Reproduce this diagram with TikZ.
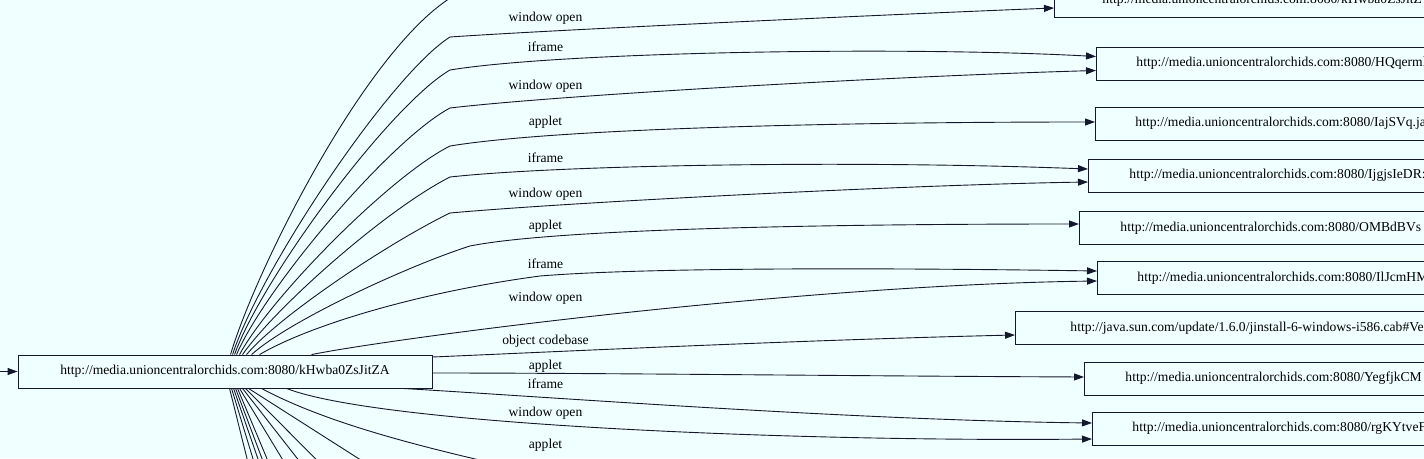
\documentclass[tikz,border=0pt]{standalone}
\usepackage{fontspec}
\setmainfont{Liberation Serif}
\usetikzlibrary{arrows.meta}
\definecolor{bg}{HTML}{F0FFFF}
\definecolor{lc}{RGB}{20,24,45}
\begin{document}
\begin{tikzpicture}[x=1pt,y=-1pt, font=\fontsize{13.6pt}{16pt}\selectfont,
  box/.style={draw=lc, line width=0.9pt, fill=bg, minimum height=33pt, inner ysep=0pt},
  rbox/.style={box, anchor=west, text width=640pt, align=left, inner xsep=#1},
  rbox/.default=41pt,
  edge/.style={draw=lc, line width=0.9pt, -{Triangle[length=10pt,width=7pt]}},
  plain/.style={draw=lc, line width=0.9pt},
  lbl/.style={inner sep=0pt, anchor=center}]
\useasboundingbox (0,0) rectangle (1424,458);
\fill[bg] (0,0) rectangle (1424,458);
\clip (0,0) rectangle (1424,458);

% nodes
\node[box, minimum width=414pt] (main) at (225,371.5) {http://media.unioncentralorchids.com:8080/kHwba0ZsJitZA};
\node[rbox=48pt] (t1) at (1054,0.5) {http://media.unioncentralorchids.com:8080/kHwba0ZsJitZ};
\node[rbox=40pt] (t2) at (1096,63.5) {http://media.unioncentralorchids.com:8080/HQqerml};
\node[rbox=40pt] (t3) at (1095,123.5) {http://media.unioncentralorchids.com:8080/IajSVq.ja};
\node[rbox=41pt] (t4) at (1088,175.5) {http://media.unioncentralorchids.com:8080/IjgjsIeDR:};
\node[rbox=41pt] (t5) at (1079,228) {http://media.unioncentralorchids.com:8080/OMBdBVs};
\node[rbox=40pt] (t6) at (1097,278) {http://media.unioncentralorchids.com:8080/IlJcmHM};
\node[rbox=55pt] (t7) at (1015,328) {http://java.sun.com/update/1.6.0/jinstall-6-windows-i586.cab\#Ve};
\node[rbox=41pt] (t8) at (1084,378.5) {http://media.unioncentralorchids.com:8080/YegfjkCM};
\node[rbox=40pt] (t9) at (1092,428.5) {http://media.unioncentralorchids.com:8080/rgKYtveF};

% free ends
\coordinate (src) at (0,371.5);
\coordinate (u0) at (470,-12);
\coordinate (d1) at (253.6,485);
\coordinate (d2) at (261,485);
\coordinate (d3) at (267,485);
\coordinate (d4) at (272,485);
\coordinate (d5) at (278,485);
\coordinate (d6) at (298,485);
\coordinate (d7) at (318,485);
\coordinate (d8) at (341.6,485);
\coordinate (d9) at (400,485);
\coordinate (d10) at (560,478);

% incoming
\draw[edge] (src) -- (main.west);

% upward edges
\draw[plain] ([xshift=213pt]main.north west) .. controls (257,265) and (380,20) .. (u0);
\draw[edge] ([xshift=215pt]main.north west) .. controls (260,270) and (390,75) .. (450,37)
  .. controls (550,30) and (900,14) .. ([yshift=-7.5pt]t1.west);
\draw[edge] ([xshift=217pt]main.north west) .. controls (262,278) and (390,105) .. (450,70)
  .. controls (560,52) and (900,46) .. ([yshift=7pt]t2.west);
\draw[edge] ([xshift=219pt]main.north west) .. controls (265,288) and (390,140) .. (450,108)
  .. controls (560,95) and (900,76) .. ([yshift=-7pt]t2.west);
\draw[edge] ([xshift=222pt]main.north west) .. controls (270,298) and (390,176) .. (450,146)
  .. controls (560,128) and (850,122) .. ([yshift=1.5pt]t3.west);
\draw[edge] ([xshift=225pt]main.north west) .. controls (275,308) and (385,210) .. (450,177)
  .. controls (560,165) and (850,160) .. ([yshift=6.5pt]t4.west);
\draw[edge] ([xshift=229pt]main.north west) .. controls (280,315) and (390,242) .. (450,213)
  .. controls (560,203) and (900,185) .. ([yshift=-6.5pt]t4.west);
\draw[edge] ([xshift=234pt]main.north west) .. controls (290,320) and (410,265) .. (470,246)
  .. controls (560,228) and (850,224) .. ([yshift=4pt]t5.west);
\draw[edge] ([xshift=242pt]main.north west) .. controls (310,325) and (420,292) .. (540,276)
  .. controls (650,267) and (900,268) .. ([yshift=7pt]t6.west);
\draw[edge] ([xshift=294pt]main.north west) .. controls (400,337) and (800,285) .. ([yshift=-3pt]t6.west);
\draw[edge] ([yshift=14.5pt]main.east) .. controls (550,352) and (800,340) .. ([yshift=-7pt]t7.west);
\draw[edge] ([yshift=-1.5pt]main.east) .. controls (600,373) and (850,376) .. ([yshift=1.5pt]t8.west);
\draw[edge] ([xshift=385pt]main.south west) .. controls (550,397) and (850,420) .. ([yshift=5.5pt]t9.west);
\draw[edge] ([xshift=269pt]main.south west) .. controls (380,425) and (800,442) .. ([yshift=-10.5pt]t9.west);
\draw[plain] ([xshift=244pt]main.south west) .. controls (330,425) and (430,450) .. (d10);

% downward edges leaving the picture
\draw[plain] ([xshift=212pt]main.south west) -- (d1);
\draw[plain] ([xshift=214pt]main.south west) -- (d2);
\draw[plain] ([xshift=216pt]main.south west) -- (d3);
\draw[plain] ([xshift=218pt]main.south west) -- (d4);
\draw[plain] ([xshift=220pt]main.south west) -- (d5);
\draw[plain] ([xshift=222pt]main.south west) -- (d6);
\draw[plain] ([xshift=225pt]main.south west) -- (d7);
\draw[plain] ([xshift=228pt]main.south west) -- (d8);
\draw[plain] ([xshift=231pt]main.south west) -- (d9);

% labels
\node[lbl] (l1) at (545.5,18) {window open};
\node[lbl] (l2) at (545.5,47) {iframe};
\node[lbl] (l3) at (545.5,86) {window open};
\node[lbl] (l4) at (545.5,122) {applet};
\node[lbl] (l5) at (545.5,158) {iframe};
\node[lbl] (l6) at (545.5,194) {window open};
\node[lbl] (l7) at (545.5,226) {applet};
\node[lbl] (l8) at (545.5,264) {iframe};
\node[lbl] (l9) at (545.5,298) {window open};
\node[lbl] (l10) at (545.5,341) {object codebase};
\node[lbl] (l11) at (545.5,366) {applet};
\node[lbl] (l12) at (545.5,384) {iframe};
\node[lbl] (l13) at (545.5,413) {window open};
\node[lbl] (l14) at (545.5,445) {applet};
\end{tikzpicture}
\end{document}
